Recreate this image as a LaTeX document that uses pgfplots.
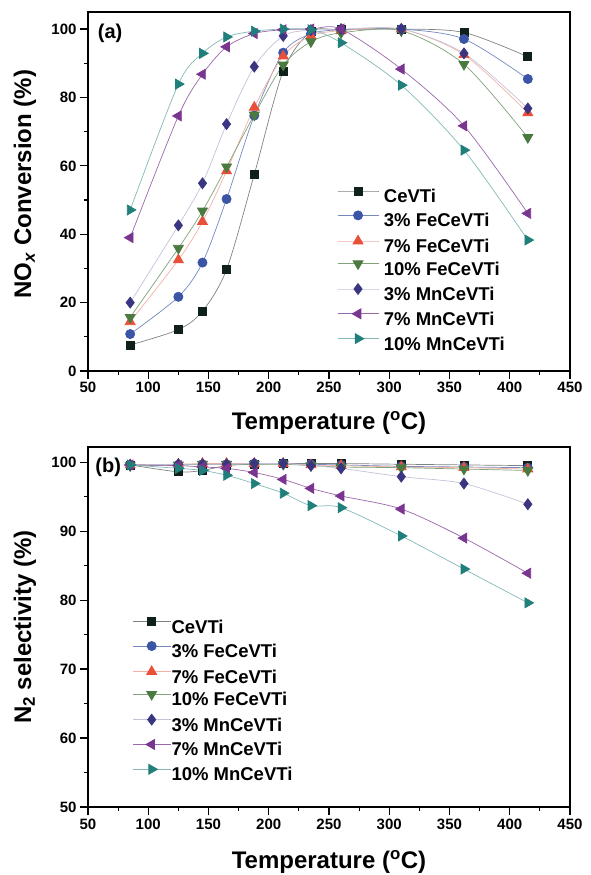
\documentclass[border=0pt]{standalone}
\usepackage{fontspec}
\setmainfont{Liberation Sans}
\usepackage{pgfplots}
\usepackage{pgfplotstable}
\pgfplotsset{compat=1.18}

\definecolor{cCe}{HTML}{10201A}
\definecolor{cFe3}{HTML}{3A55A5}
\definecolor{cFe7}{HTML}{E8503A}
\definecolor{cFe10}{HTML}{4A7A40}
\definecolor{cMn3}{HTML}{3A3580}
\definecolor{cMn7}{HTML}{7A3590}
\definecolor{cMn10}{HTML}{207F7A}

% NOx conversion (a)
\pgfplotstableread{
T   Ce    Fe3   Fe7   Fe10  Mn3   Mn7   Mn10
85  7.6   10.8  14.4  15.7  20.0  39.0  47.1
125 12.1  21.7  32.5  35.9  42.6  74.6  83.9
145 17.5  31.7  43.7  46.8  54.9  86.8  92.9
165 29.7  50.3  58.5  59.7  72.2  94.8  97.7
188 57.5  74.7  77.1  74.9  89.0  98.7  99.4
212 87.7  93.1  92.1  89.5  98.0  99.8  100
235 99.2  98.6  98.0  96.3  99.7  100   99.8
260 99.8  99.8  99.5  98.9  100   100   96.0
310 100   100   100   99.5  100   88.3  83.6
362 99.0  97.1  92.5  89.7  92.9  71.7  64.6
415 91.9  85.4  75.5  68.3  76.8  46.1  38.3
}\tconv

% N2 selectivity (b)
\pgfplotstableread{
T   Ce    Fe3   Fe7   Fe10  Mn3   Mn7   Mn10
85  99.6  99.6  99.6  99.5  99.6  99.6  99.6
125 98.6  99.6  99.7  99.6  99.7  99.5  99.1
145 98.8  99.7  99.8  99.7  99.7  99.3  98.8
165 99.5  99.7  99.8  99.7  99.7  99.1  98.1
188 99.7  99.8  99.8  99.7  99.8  98.5  96.9
212 99.8  99.8  99.8  99.7  99.8  97.5  95.5
235 99.8  99.7  99.6  99.5  99.5  96.2  93.7
260 99.8  99.6  99.5  99.3  99.1  95.1  93.4
310 99.7  99.4  99.3  99.2  97.9  93.2  89.3
362 99.6  99.3  99.2  99.0  96.9  89.0  84.5
415 99.5  99.2  99.0  98.8  93.9  83.9  79.6
}\tsel

\pgfplotsset{
  panel/.style={
    scale only axis, width=482pt,
    xmin=50, xmax=450,
    xtick={50,100,...,450}, minor x tick num=1, minor y tick num=1,
    tick pos=left, tick align=outside,
    major tick length=8pt, minor tick length=4pt,
    axis line style={line width=1.2pt},
    every tick/.style={line width=1.2pt, black},
    /pgf/number format/assume math mode=true,
    tick label style={font=\fontsize{15}{15}\selectfont\bfseries},
    label style={font=\fontsize{24}{24}\selectfont\bfseries},
    legend cell align=left,
    legend style={draw=none, fill=none, inner sep=0pt, outer sep=0pt,
      font=\fontsize{18.5}{18.5}\selectfont\bfseries,
      nodes={inner sep=0pt, text height=14pt, text depth=4pt},
      row sep=4.3pt, column sep=5pt},
    every axis plot/.append style={smooth, line width=0.7pt},
  },
  sCe/.style={color=cCe!55, mark=square*, mark size=4pt, mark options={fill=cCe, draw=cCe}},
  sFe3/.style={color=cFe3!70, mark=*, mark size=4.6pt, mark options={fill=cFe3, draw=cFe3}},
  sFe7/.style={color=cFe7!45, mark=triangle*, mark size=5.8pt, mark options={fill=cFe7, draw=cFe7}},
  sFe10/.style={color=cFe10!70, mark=triangle*, mark size=5.8pt, mark options={fill=cFe10, draw=cFe10, rotate=180}},
  sMn3/.style={color=cMn3!30, mark=diamond*, mark size=5.5pt, mark options={fill=cMn3, draw=cMn3}},
  sMn7/.style={color=cMn7!75, mark=triangle*, mark size=5.8pt, mark options={fill=cMn7, draw=cMn7, rotate=90}},
  sMn10/.style={color=cMn10!55, mark=triangle*, mark size=5.8pt, mark options={fill=cMn10, draw=cMn10, rotate=-90}},
}

\begin{document}
\begin{tikzpicture}
\useasboundingbox (0,0) rectangle (590pt,875pt);

% ---- (a) NOx conversion
\begin{axis}[panel,
  at={(88pt,504pt)}, anchor=south west, height=359pt,
  ymin=0, ymax=105, ytick={0,20,...,100},
  xlabel={Temperature (\textsuperscript{o}C)},
  ylabel={NO\textsubscript{\textit{x}} Conversion (\%)},
  xlabel style={at={(axis description cs:0.5,-0.145)}, anchor=center},
  ylabel style={at={(axis description cs:-0.131,0.52)}, anchor=center},
  legend image code/.code={
    \draw[mark repeat=2, mark phase=2, #1] plot coordinates {(0pt,6.5pt) (20.5pt,6.5pt) (41pt,6.5pt)};
  },
  legend style={at={(axis description cs:0.517,0.5125)}, anchor=north west},
]
\addplot[sCe]   table[x=T, y=Ce]   {\tconv}; \addlegendentry{CeVTi}
\addplot[sFe3]  table[x=T, y=Fe3]  {\tconv}; \addlegendentry{3\% FeCeVTi}
\addplot[sFe7]  table[x=T, y=Fe7]  {\tconv}; \addlegendentry{7\% FeCeVTi}
\addplot[sFe10] table[x=T, y=Fe10] {\tconv}; \addlegendentry{10\% FeCeVTi}
\addplot[sMn3]  table[x=T, y=Mn3]  {\tconv}; \addlegendentry{3\% MnCeVTi}
\addplot[sMn7]  table[x=T, y=Mn7]  {\tconv}; \addlegendentry{7\% MnCeVTi}
\addplot[sMn10] table[x=T, y=Mn10] {\tconv}; \addlegendentry{10\% MnCeVTi}
\node[font=\fontsize{20}{20}\selectfont\bfseries] at (axis description cs:0.046,0.941) {(a)};
\end{axis}

% ---- (b) N2 selectivity
\begin{axis}[panel,
  at={(88pt,68pt)}, anchor=south west, height=360pt,
  ymin=50, ymax=102.2, ytick={50,60,...,100},
  xlabel={Temperature (\textsuperscript{o}C)},
  ylabel={N\textsubscript{2} selectivity (\%)},
  xlabel style={at={(axis description cs:0.5,-0.153)}, anchor=center},
  ylabel style={at={(axis description cs:-0.131,0.5)}, anchor=center},
  legend image code/.code={
    \draw[mark repeat=2, mark phase=2, #1] plot coordinates {(0pt,6.5pt) (18.5pt,6.5pt) (37pt,6.5pt)};
  },
  legend style={at={(axis description cs:0.093,0.526)}, anchor=north west, column sep=1pt},
]
\addplot[sCe]   table[x=T, y=Ce]   {\tsel}; \addlegendentry{CeVTi}
\addplot[sFe3]  table[x=T, y=Fe3]  {\tsel}; \addlegendentry{3\% FeCeVTi}
\addplot[sFe7]  table[x=T, y=Fe7]  {\tsel}; \addlegendentry{7\% FeCeVTi}
\addplot[sFe10] table[x=T, y=Fe10] {\tsel}; \addlegendentry{10\% FeCeVTi}
\addplot[sMn3]  table[x=T, y=Mn3]  {\tsel}; \addlegendentry{3\% MnCeVTi}
\addplot[sMn7]  table[x=T, y=Mn7]  {\tsel}; \addlegendentry{7\% MnCeVTi}
\addplot[sMn10] table[x=T, y=Mn10] {\tsel}; \addlegendentry{10\% MnCeVTi}
\node[font=\fontsize{20}{20}\selectfont\bfseries] at (axis description cs:0.042,0.944) {(b)};
\end{axis}
\end{tikzpicture}
\end{document}
